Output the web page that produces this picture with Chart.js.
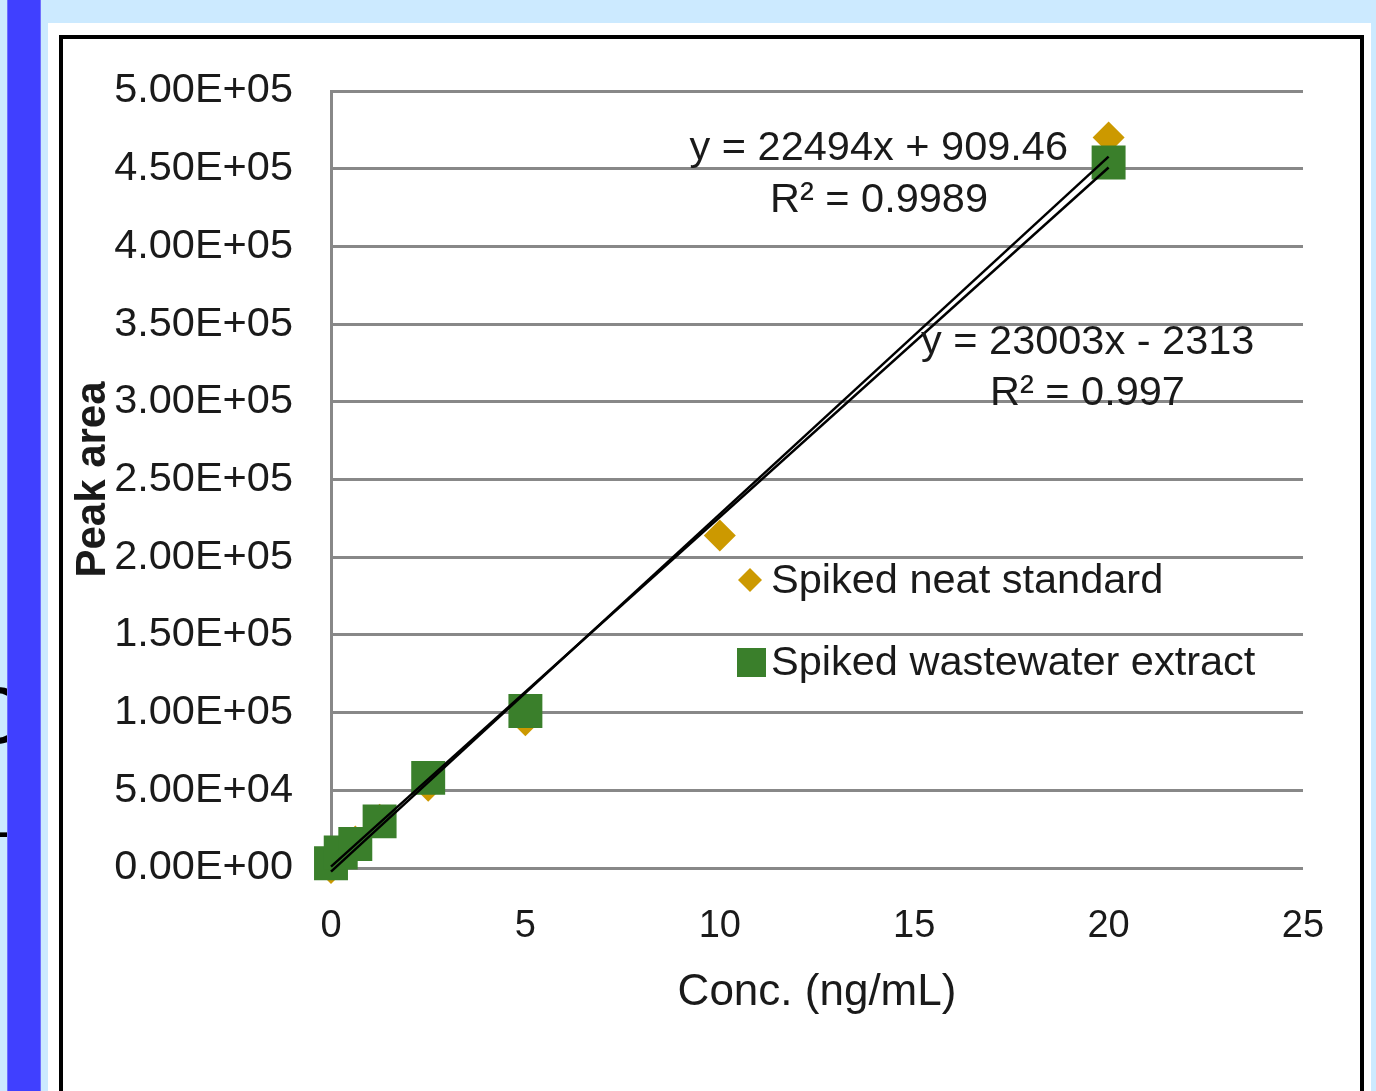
<!DOCTYPE html>
<html>
<head>
<meta charset="utf-8">
<script src="https://cdn.jsdelivr.net/npm/chart.js@4/dist/chart.umd.min.js"></script>
<style>
  html, body { margin:0; padding:0; }
  body { width:1376px; height:1091px; background:#cceaff; position:relative; overflow:hidden; font-family:"Liberation Sans", Arial, sans-serif; }
  #stray { position:absolute; left:-34px; top:676px; font-size:80px; color:#000; line-height:1; }
  #stray2 { position:absolute; left:-4px; top:800px; font-size:60px; color:#000; line-height:1; }
  #bar { position:absolute; left:7px; top:0; width:34px; height:1091px; background:#4040ff; border-left:1px solid #6f6fff; border-right:1px solid #6f6fff; box-sizing:border-box; }
  #panel { position:absolute; left:48px; top:23px; width:1323px; height:1068px; background:#fff; }
  #frame { position:absolute; left:59px; top:35px; width:1305px; height:1070px; border:4px solid #000; box-sizing:border-box; }
  #c { position:absolute; left:63px; top:39px; }
</style>
</head>
<body>
<div id="stray">C</div>
<div id="stray2">-</div>
<div id="bar"></div>
<div id="panel"></div>
<div id="frame"></div>
<canvas id="c" width="1297" height="1052"></canvas>
<script>
// ---- data ----
const seriesNames = ["Spiked neat standard", "Spiked wastewater extract"];
const neatX  = [0, 0.25, 0.625, 1.25, 2.5, 5, 10, 20];
const neatY  = [0, 5000, 17000, 31000, 53000, 95000, 214000, 470000];
const wasteX = [0, 0.25, 0.625, 1.25, 2.5, 5, 20];
const wasteY = [3000, 10000, 15500, 30000, 58000, 101000, 454000];
const trendX = [0, 20];
const trendNeatY  = [909.46, 450789.46];
const trendWasteY = [-2313, 457747];
const equations = ["y = 22494x + 909.46", "R² = 0.9989", "y = 23003x - 2313", "R² = 0.997"];
const xTicks = [0, 5, 10, 15, 20, 25];
const yTickStep = 50000;

const FONT = '"Liberation Sans", Arial, sans-serif';
const TXT = '#1a1a1a';
const GOLD = '#cc9900';
const GREEN = '#3a7f2b';

function pts(xs, ys) { return xs.map((x, i) => ({ x: x, y: ys[i] })); }
function fmtE(v) {
  if (v === 0) return "0.00E+00";
  const e = Math.floor(Math.log10(Math.abs(v)) + 1e-9);
  const m = v / Math.pow(10, e);
  return m.toFixed(2) + "E+" + String(e).padStart(2, "0");
}

const overlay = {
  id: 'overlay',
  afterDatasetsDraw(chart) {
    const ctx = chart.ctx;
    ctx.save();
    ctx.fillStyle = TXT;
    ctx.font = '41.5px ' + FONT;
    ctx.textBaseline = 'middle';
    ctx.textAlign = 'right';
    ctx.fillText(equations[0], 1005, 110);
    ctx.fillText(equations[1], 925, 162);
    ctx.textAlign = 'left';
    ctx.fillText(equations[2], 858, 304);
    ctx.fillText(equations[3], 927, 355);
    // legend
    const ds = chart.data.datasets;
    ctx.fillStyle = GOLD;
    ctx.beginPath();
    ctx.moveTo(687, 529); ctx.lineTo(699, 541); ctx.lineTo(687, 553); ctx.lineTo(675, 541); ctx.closePath();
    ctx.fill();
    ctx.fillStyle = GREEN;
    ctx.fillRect(674, 609, 29, 29);
    ctx.fillStyle = TXT;
    ctx.fillText(ds[2].label, 708, 543);
    ctx.fillText(ds[1].label, 708, 625);
    ctx.restore();
  }
};

new Chart(document.getElementById('c'), {
  type: 'scatter',
  data: {
    datasets: [
      { label: 'trend neat', data: pts(trendX, trendNeatY), showLine: true, borderColor: '#000', borderWidth: 2.5, pointRadius: 0, order: 0, clip: false },
      { label: seriesNames[1], data: pts(wasteX, wasteY), backgroundColor: GREEN, borderWidth: 0, pointStyle: 'rect', pointRadius: 24, order: 1, clip: false },
      { label: seriesNames[0], data: pts(neatX, neatY), backgroundColor: GOLD, borderWidth: 0, pointStyle: 'rectRot', pointRadius: 16, order: 2, clip: false },
      { label: 'trend waste', data: pts(trendX, trendWasteY), showLine: true, borderColor: '#000', borderWidth: 2.5, pointRadius: 0, order: 0, clip: false }
    ]
  },
  options: {
    responsive: false,
    animation: false,
    devicePixelRatio: 1,
    layout: { padding: { top: 52, right: 57, left: 0, bottom: 0 } },
    plugins: { legend: { display: false }, tooltip: { enabled: false } },
    scales: {
      x: {
        type: 'linear', min: 0, max: 25,
        afterBuildTicks(s) { s.ticks = xTicks.map(v => ({ value: v })); },
        afterFit(s) { s.height = 223; s.paddingLeft = 0; s.paddingRight = 0; },
        grid: { display: false, drawTicks: false },
        border: { display: false },
        ticks: { padding: 36, color: TXT, font: { family: FONT, size: 38 }, maxRotation: 0 },
        title: { display: true, text: 'Conc. (ng/mL)', color: TXT, font: { family: FONT, size: 44 }, padding: { top: 72, bottom: 72 } }
      },
      y: {
        type: 'linear', min: 0, max: 500000,
        ticks: { stepSize: yTickStep, padding: 38, color: TXT, font: { family: FONT, size: 41.5 }, callback: v => fmtE(v) },
        afterFit(s) { s.width = 268; s.paddingTop = 0; s.paddingBottom = 0; },
        grid: { color: '#888', lineWidth: 3, drawTicks: false },
        border: { display: true, color: '#888', width: 3 },
        title: { display: true, text: 'Peak area', color: TXT, font: { family: FONT, size: 42, weight: 'bold' }, padding: { top: 5, bottom: 5 } }
      }
    }
  },
  plugins: [overlay]
});
</script>
</body>
</html>
